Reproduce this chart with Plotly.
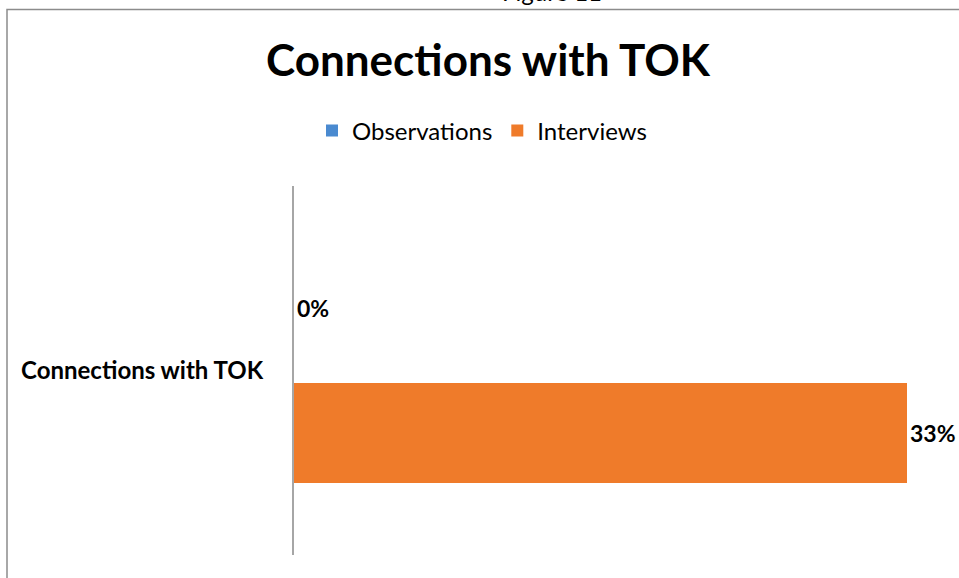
import plotly.graph_objects as go

# Chart data
categories = ["Connections with TOK"]
series_names = ["Observations", "Interviews"]
observations = [0.0]
interviews = [0.33]

colors = {"Observations": "#4A8AD0", "Interviews": "#EF7B2A"}
values = {"Observations": observations, "Interviews": interviews}

W, H = 959, 578
L, R, T, B = 294, 52, 186, 23
pw, ph = W - L - R, H - T - B


def px_x(px):
    return (px - L) / pw


def px_y(py):
    return (H - B - py) / ph


fig = go.Figure()
for name in series_names:
    fig.add_trace(go.Bar(
        y=categories,
        x=values[name],
        name=name,
        orientation="h",
        marker=dict(color=colors[name], line=dict(width=0)),
        text=[f"{v:.0%}" for v in values[name]],
        textposition="outside",
        textfont=dict(family="Lato", size=23, color="#000000", weight="bold"),
        cliponaxis=False,
    ))

fig.update_layout(
    width=W,
    height=H,
    margin=dict(l=L, r=R, t=T, b=B),
    paper_bgcolor="white",
    plot_bgcolor="white",
    barmode="group",
    bargap=0.3225,
    bargroupgap=0.2,
    showlegend=True,
    legend=dict(
        orientation="h",
        x=px_x(482), xanchor="center",
        y=px_y(131), yanchor="middle",
        font=dict(family="Lato", size=24, color="#000000"),
        itemwidth=30,
        traceorder="normal",
    ),
    title=dict(
        text="<b>Connections with TOK</b>",
        x=488 / W, xanchor="center",
        y=1 - 61 / H, yanchor="middle",
        font=dict(family="Lato", size=44, color="#000000"),
    ),
    xaxis=dict(
        range=[0, 0.33],
        showgrid=False, zeroline=False, showline=False,
        showticklabels=False, ticks="",
    ),
    yaxis=dict(
        autorange="reversed",
        showgrid=False, zeroline=False,
        showline=True, linecolor="#A6A6A6", linewidth=2,
        ticks="", ticklabelstandoff=24,
        tickfont=dict(family="Lato", size=24, color="#000000", weight="bold"),
    ),
    shapes=[
        dict(
            type="rect", xref="paper", yref="paper",
            x0=px_x(7), x1=px_x(W + 10), y0=px_y(H + 10), y1=px_y(9.5),
            line=dict(color="#8C8C8C", width=1.5),
            fillcolor="rgba(0,0,0,0)", layer="below",
        ),
    ],
    annotations=[
        dict(
            text="Figure 11", xref="paper", yref="paper",
            x=px_x(552), y=px_y(8), xanchor="center", yanchor="bottom",
            showarrow=False,
            font=dict(family="Lato", size=24, color="#000000"),
        ),
    ],
)

fig.write_html("out.html")
